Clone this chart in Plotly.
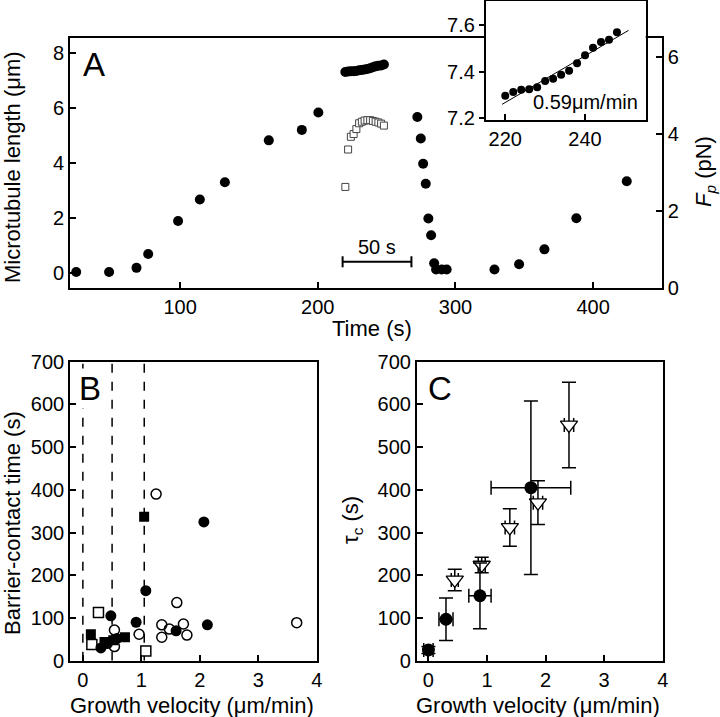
import plotly.graph_objects as go

W, H = 720, 717
FONT = "Liberation Sans, Arial, sans-serif"

# ---------------- Panel A data ----------------
time_free = [24.5, 48.4, 68.3, 76.8, 98.5, 114.3, 132.5, 164.4, 188.4, 200.4,
             272.3, 274.8, 276.5, 278.4, 280.3, 282.3, 284.5, 285.9, 290.0, 293.6,
             328.3, 346.2, 364.6, 387.8, 424.4]
length_free = [0.05, 0.05, 0.2, 0.7, 1.9, 2.68, 3.3, 4.82, 5.2, 5.83,
               5.67, 4.89, 3.97, 3.25, 1.99, 1.38, 0.37, 0.14, 0.14, 0.14,
               0.14, 0.33, 0.87, 2.0, 3.34]

contact_time = [220, 222, 224, 226, 228, 230, 232, 234, 236, 238, 240, 242, 244, 246, 248]
contact_length = [7.297, 7.313, 7.323, 7.325, 7.333, 7.36, 7.37, 7.387, 7.404, 7.436,
                  7.47, 7.503, 7.527, 7.537, 7.569]
contact_force = [2.62, 3.59, 3.92, 3.99, 4.12, 4.27, 4.31, 4.34, 4.35, 4.35,
                 4.33, 4.31, 4.29, 4.26, 4.21]

fit_time = [219.2, 250.9]
fit_length = [7.26, 7.577]
fit_label = "0.59\u03bcm/min"

scale_bar_start = 218
scale_bar_len = 50
scale_bar_level = 0.42

# ---------------- Panel B data ----------------
b_open_circle_v = [1.253, 1.607, 3.658, 1.35, 1.35, 1.48, 1.72, 1.78, 0.962, 0.54, 0.54]
b_open_circle_t = [390, 136, 89, 84, 55, 74, 86, 60, 62, 72, 33]
b_filled_circle_v = [0.479, 0.911, 0.308, 0.58, 1.595, 1.077, 2.07, 2.13, 0.42]
b_filled_circle_t = [105, 90, 30, 52, 70, 164, 325, 84, 40]
b_open_square_v = [0.267, 0.154, 1.077]
b_open_square_t = [113, 38, 23]
b_filled_square_v = [0.137, 0.37, 0.52, 0.72, 1.048]
b_filled_square_t = [62, 44, 48, 55, 337]
b_dashed_v = [0.0, 0.5, 1.05]

# ---------------- Panel C data ----------------
c_circle_v = [0.0, 0.30, 0.88, 1.75]
c_circle_tau = [25, 97, 152, 405]
c_circle_v_err = [0.08, 0.12, 0.19, 0.68]
c_circle_tau_err = [8, 50, 77, 203]
c_tri_v = [0.45, 0.91, 1.39, 1.87, 2.40]
c_tri_tau = [189, 224, 312, 370, 552]
c_tri_v_err = [0.06, 0.06, 0.08, 0.08, 0.08]
c_tri_tau_err = [25, 18, 44, 51, 100]

# ---------------- geometry (pixels) ----------------
def px(x):
    return x / W

def py(y):
    return 1 - y / H

A_dom_x = [px(70), px(662)]
A_dom_y = [py(288), py(38)]
B_dom_x = [px(70), px(316.7)]
C_dom_x = [px(416.7), px(662.7)]
BC_dom_y = [py(660.7), py(361.7)]
I_dom_x = [px(485.7), px(645.7)]
I_dom_y = [py(120), py(1)]

fig = go.Figure()

blk = "black"
# Panel A traces
fig.add_trace(go.Scatter(x=time_free, y=length_free, mode="markers",
                         marker=dict(color=blk, size=10), xaxis="x", yaxis="y"))
fig.add_trace(go.Scatter(x=contact_time, y=contact_length, mode="markers",
                         marker=dict(color=blk, size=10), xaxis="x", yaxis="y"))
fig.add_trace(go.Scatter(x=contact_time, y=contact_force, mode="markers",
                         marker=dict(symbol="square", color="white", size=7,
                                     line=dict(color="#444", width=1)),
                         xaxis="x", yaxis="y2"))
# scale bar
fig.add_trace(go.Scatter(x=[scale_bar_start, scale_bar_start + scale_bar_len],
                         y=[scale_bar_level, scale_bar_level], mode="lines",
                         line=dict(color=blk, width=2), xaxis="x", yaxis="y"))
for xb in [scale_bar_start, scale_bar_start + scale_bar_len]:
    fig.add_trace(go.Scatter(x=[xb, xb], y=[scale_bar_level - 0.2, scale_bar_level + 0.2],
                             mode="lines", line=dict(color=blk, width=2),
                             xaxis="x", yaxis="y"))

# Inset
fig.add_trace(go.Scatter(x=fit_time, y=fit_length, mode="lines",
                         line=dict(color=blk, width=1), xaxis="x4", yaxis="y5"))
fig.add_trace(go.Scatter(x=contact_time, y=contact_length, mode="markers",
                         marker=dict(color=blk, size=8), xaxis="x4", yaxis="y5"))

# Panel B
fig.add_trace(go.Scatter(x=b_open_circle_v, y=b_open_circle_t, mode="markers",
                         marker=dict(symbol="circle-open", color=blk, size=10,
                                     line=dict(width=1.5)), xaxis="x2", yaxis="y3"))
fig.add_trace(go.Scatter(x=b_open_square_v, y=b_open_square_t, mode="markers",
                         marker=dict(symbol="square", color="white", size=10,
                                     line=dict(color=blk, width=1.5)), xaxis="x2", yaxis="y3"))
fig.add_trace(go.Scatter(x=b_filled_square_v, y=b_filled_square_t, mode="markers",
                         marker=dict(symbol="square", color=blk, size=10),
                         xaxis="x2", yaxis="y3"))
fig.add_trace(go.Scatter(x=b_filled_circle_v, y=b_filled_circle_t, mode="markers",
                         marker=dict(color=blk, size=11), xaxis="x2", yaxis="y3"))

# Panel C
fig.add_trace(go.Scatter(x=c_tri_v, y=c_tri_tau, mode="markers",
                         marker=dict(symbol="triangle-down", color="white", size=15,
                                     line=dict(color=blk, width=1.3)),
                         error_x=dict(type="data", array=c_tri_v_err, color=blk, thickness=1.5, width=7),
                         error_y=dict(type="data", array=c_tri_tau_err, color=blk, thickness=1.5, width=7),
                         xaxis="x3", yaxis="y4"))
fig.add_trace(go.Scatter(x=c_circle_v, y=c_circle_tau, mode="markers",
                         marker=dict(color=blk, size=13),
                         error_x=dict(type="data", array=c_circle_v_err, color=blk, thickness=1.5, width=7),
                         error_y=dict(type="data", array=c_circle_tau_err, color=blk, thickness=1.5, width=7),
                         xaxis="x3", yaxis="y4"))

tickfont = dict(family=FONT, size=20, color=blk)
common = dict(showline=True, linecolor=blk, linewidth=1.6, ticks="inside", ticklen=6,
              tickwidth=1.5, tickcolor=blk, showgrid=False, zeroline=False,
              tickfont=tickfont, fixedrange=True, automargin=False)

fig.update_layout(
    template="none",
    width=W, height=H, margin=dict(l=0, r=0, t=0, b=0, pad=0, autoexpand=False),
    paper_bgcolor="white", plot_bgcolor="white", showlegend=False,
    font=dict(family=FONT, size=20, color=blk),
    xaxis=dict(domain=A_dom_x, range=[20, 450], tickvals=[100, 200, 300, 400],
               anchor="y", mirror=True, **common),
    yaxis=dict(domain=A_dom_y, range=[-0.53, 8.53], tickvals=[0, 2, 4, 6, 8],
               anchor="x", mirror=True, **common),
    yaxis2=dict(range=[0, 6.48], tickvals=[0, 2, 4, 6], overlaying="y", side="right",
                anchor="x", **common),
    xaxis2=dict(domain=B_dom_x, range=[-0.22, 4], tickvals=[0, 1, 2, 3, 4],
                anchor="y3", mirror=True, **common),
    yaxis3=dict(domain=BC_dom_y, range=[0, 700], tickvals=list(range(0, 701, 100)),
                anchor="x2", mirror=True, **common),
    xaxis3=dict(domain=C_dom_x, range=[-0.2, 4], tickvals=[0, 1, 2, 3, 4],
                anchor="y4", mirror=True, **common),
    yaxis4=dict(domain=BC_dom_y, range=[0, 700], tickvals=list(range(0, 701, 100)),
                anchor="x3", mirror=True, **common),
    xaxis4=dict(domain=I_dom_x, range=[215.1, 255.2], tickvals=[220, 240],
                anchor="y5", mirror=True, **common),
    yaxis5=dict(domain=I_dom_y, range=[7.193, 7.703], tickvals=[7.2, 7.4, 7.6],
                tickformat=".1f", anchor="x4", mirror=True, **common),
)
fig.update_layout(yaxis5=dict(ticks="outside", ticklen=5))

shapes = []
for v in b_dashed_v:
    shapes.append(dict(type="line", xref="x2", yref="y3", x0=v, x1=v, y0=0, y1=700,
                       line=dict(color=blk, width=1.5, dash="dash"), layer="below"))
fig.update_layout(shapes=shapes)

title_font = dict(family=FONT, size=22, color=blk)
ann = [
    dict(text="Microtubule length (\u03bcm)", x=px(12), y=py(167), textangle=-90),
    dict(text="Time (s)", x=px(371.7), y=py(328)),
    dict(text="<i>F<sub>p</sub></i> (pN)", x=px(705), y=py(172), textangle=-90),
    dict(text="Barrier-contact time (s)", x=px(12), y=py(523), textangle=-90),
    dict(text="\u03c4<sub>c</sub> (s)", x=px(352), y=py(520), textangle=-90),
    dict(text="Growth velocity (\u03bcm/min)", x=px(191.7), y=py(705)),
    dict(text="Growth velocity (\u03bcm/min)", x=px(538), y=py(705)),
]
annotations = []
for a in ann:
    a.update(xref="paper", yref="paper", showarrow=False, font=title_font,
             xanchor="center", yanchor="middle")
    annotations.append(a)
letter_font = dict(family=FONT, size=33, color=blk)
for t, xx, yy in [("A", 93.8, 65), ("B", 90, 388), ("C", 440, 388)]:
    annotations.append(dict(text=t, x=px(xx), y=py(yy), xref="paper", yref="paper",
                            showarrow=False, font=letter_font, xanchor="center",
                            yanchor="middle", bgcolor="white"))
annotations.append(dict(text="50 s", x=scale_bar_start + scale_bar_len / 2, y=0.96,
                        xref="x", yref="y", showarrow=False,
                        font=dict(family=FONT, size=20, color=blk), yanchor="middle"))
annotations.append(dict(text=fit_label, x=253.8, y=7.27, xref="x4", yref="y5",
                        showarrow=False, font=dict(family=FONT, size=20, color=blk),
                        xanchor="right", yanchor="middle"))
fig.update_layout(annotations=annotations)

fig.write_html("out.html", config={"displayModeBar": False},
               post_script="document.body.style.margin='0px';")
